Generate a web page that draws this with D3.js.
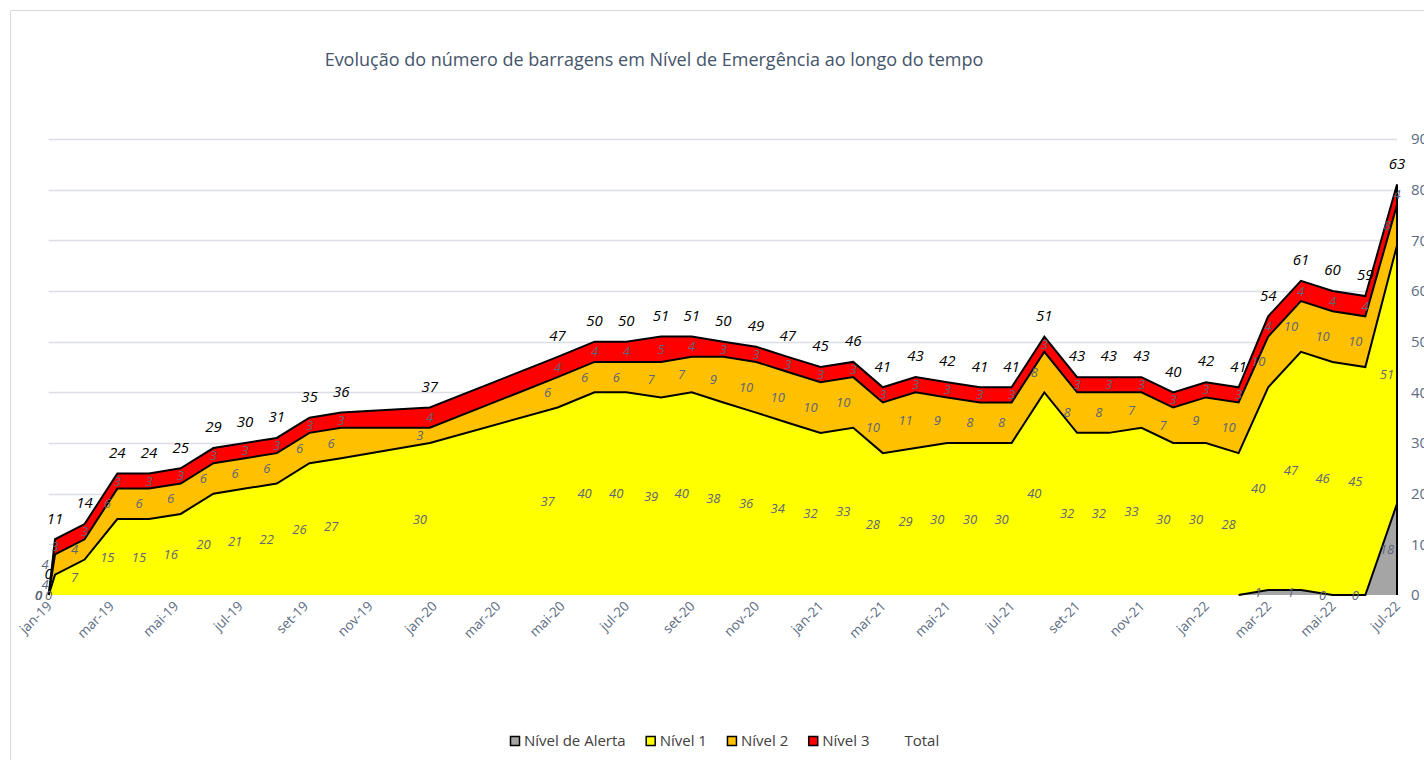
<!DOCTYPE html>
<html>
<head>
<meta charset="utf-8">
<script src="https://cdn.jsdelivr.net/npm/d3@7"></script>
<style>
  body { margin: 0; background: #fff; }
  svg { display: block; font-family: 'Open Sans', sans-serif; }
</style>
</head>
<body>
<svg id="chart" width="1424" height="760"></svg>
<script>
const dates = [
    '2019-01-01', '2019-01-07', '2019-02-04', '2019-03-07', '2019-04-06', '2019-05-06',
    '2019-06-06', '2019-07-06', '2019-08-05', '2019-09-05', '2019-10-05', '2019-12-28',
    '2020-04-27', '2020-06-01', '2020-07-01', '2020-08-03', '2020-09-01', '2020-10-01',
    '2020-11-01', '2020-12-01', '2021-01-01', '2021-02-01', '2021-03-01', '2021-04-01',
    '2021-05-01', '2021-06-01', '2021-07-01', '2021-08-01', '2021-09-01', '2021-10-01',
    '2021-11-01', '2021-12-01', '2022-01-01', '2022-02-01', '2022-03-01', '2022-04-01',
    '2022-05-01', '2022-06-01', '2022-07-01'
]
// blank months count as zero in the stack but get no label
const nivelAlerta = [0,
    null, null, null, null, null, null, null, null, null, null, null, null, null, null, null, null,
    null, null, null, null, null, null, null, null, null, null, null, null, null, null, null, null,
    null, 1, 1, 0, 0, 18]
const nivel1 = [0, 4, 7, 15, 15, 16, 20, 21, 22, 26, 27, 30, 37, 40, 40, 39, 40, 38, 36, 34,
    32, 33, 28, 29, 30, 30, 30, 40, 32, 32, 33, 30, 30, 28, 40, 47, 46, 45, 51]
const nivel2 = [0, 4, 4, 6, 6, 6, 6, 6, 6, 6, 6, 3, 6, 6, 6, 7, 7, 9, 10, 10,
    10, 10, 10, 11, 9, 8, 8, 8, 8, 8, 7, 7, 9, 10, 10, 10, 10, 10, 8]
const nivel3 = [0, 3, 3, 3, 3, 3, 3, 3, 3, 3, 3, 4, 4, 4, 4, 5, 4, 3, 3, 3,
    3, 3, 3, 3, 3, 3, 3, 3, 3, 3, 3, 3, 3, 3, 4, 4, 4, 4, 4]
const total = [0, 11, 14, 24, 24, 25, 29, 30, 31, 35, 36, 37, 47, 50, 50, 51, 51, 50, 49, 47,
    45, 46, 41, 43, 42, 41, 41, 51, 43, 43, 43, 40, 42, 41, 54, 61, 60, 59, 63]

const seriesNames = ['Nível de Alerta', 'Nível 1', 'Nível 2', 'Nível 3']
const seriesColors = ['#a5a5a5', '#ffff00', '#ffc000', '#ff0000']
const monthNames = ['jan', 'fev', 'mar', 'abr', 'mai', 'jun', 'jul', 'ago', 'set', 'out', 'nov', 'dez']
const yTicks = [0, 10, 20, 30, 40, 50, 60, 70, 80, 90]
const title = 'Evolução do número de barragens em Nível de Emergência ao longo do tempo'

const keys = ['alerta', 'n1', 'n2', 'n3']
const values = [nivelAlerta, nivel1, nivel2, nivel3]
const parseDate = d3.timeParse('%Y-%m-%d')
const rows = dates.map((d, i) => {
    const row = { date: parseDate(d), total: total[i] }
    keys.forEach((k, j) => { row[k] = values[j][i] })
    return row
})

const svg = d3.select('#chart')
const labelGray = '#5d6577'
const axisGray = '#5b6b82'

// chart border (cut by the right edge in the original)
svg.append('path')
    .attr('d', 'M10.5,760 V10.5 H1424')
    .attr('fill', 'none')
    .attr('stroke', '#d9d9d9')

svg.append('text')
    .attr('x', 654)
    .attr('y', 66)
    .attr('text-anchor', 'middle')
    .attr('font-size', 18)
    .attr('fill', '#44546a')
    .text(title)

const x = d3.scaleTime()
    .domain([parseDate('2019-01-01'), parseDate('2022-07-01')])
    .range([48.7, 1397])
const y = d3.scaleLinear()
    .domain([0, 90])
    .range([595, 139])

// gridlines
svg.append('g')
    .attr('class', 'grid')
    .selectAll('line')
    .data(yTicks.slice(1))
    .join('line')
    .attr('x1', x.range()[0])
    .attr('x2', x.range()[1])
    .attr('y1', d => Math.round(y(d)) + 0.5)
    .attr('y2', d => Math.round(y(d)) + 0.5)
    .attr('stroke', '#dadde3')
    .attr('stroke-width', 1.5)

// right value axis
const yAxis = d3.axisRight(y).tickValues(yTicks).tickSize(0).tickPadding(0)
svg.append('g')
    .attr('transform', 'translate(1411,0)')
    .call(yAxis)
    .call(g => g.select('.domain').remove())
    .call(g => g.selectAll('text')
        .attr('font-family', 'Open Sans, sans-serif')
        .attr('font-size', 15)
        .attr('fill', axisGray))

// stacked areas
const stack = d3.stack()
    .keys(keys)
    .value((d, k) => d[k] == null ? 0 : d[k])
const layers = stack(rows)

const area = d3.area()
    .x(d => x(d.data.date))
    .y0(d => y(d[0]))
    .y1(d => y(d[1]))

const gAreas = svg.append('g').attr('class', 'g-areas')
layers.forEach((layer, i) => {
    gAreas.append('path')
        .datum(layer)
        .attr('fill', seriesColors[i])
        .attr('d', area)
})

// alert outline only from the month before its first value
const alertDrawn = (d, i, arr) => d.data.alerta != null ||
    (arr[i + 1] && arr[i + 1].data.alerta != null && i > 0)
const alertLine = d3.line()
    .defined((d, i, arr) => alertDrawn(d, i, arr) && i > 0)
    .x(d => x(d.data.date))
    .y(d => y(d[1]))

const topLine = d3.line()
    .x(d => x(d.data.date))
    .y(d => y(d[1]))

const gLines = svg.append('g').attr('class', 'g-lines')
layers.forEach((layer, i) => {
    gLines.append('path')
        .datum(layer)
        .attr('fill', 'none')
        .attr('stroke', '#000')
        .attr('stroke-width', 2)
        .attr('stroke-linejoin', 'miter')
        .attr('d', i === 0 ? alertLine : topLine)
})
const last = layers[3][layers[3].length - 1]
gLines.append('line')
    .attr('x1', x(last.data.date))
    .attr('x2', x(last.data.date))
    .attr('y1', y(0))
    .attr('y2', y(last[1]))
    .attr('stroke', '#000')
    .attr('stroke-width', 2)

// x axis labels, every two months, rotated
const xTicks = d3.timeMonth.every(2).range(parseDate('2019-01-01'), parseDate('2022-07-02'))
svg.append('g')
    .attr('class', 'x-labels')
    .selectAll('text')
    .data(xTicks)
    .join('text')
    .attr('transform', d => `translate(${x(d) + 4},${607}) rotate(-45)`)
    .attr('text-anchor', 'end')
    .attr('font-size', 13.5)
    .attr('fill', axisGray)
    .text(d => `${monthNames[d.getMonth()]}-${String(d.getFullYear()).slice(2)}`)

// data labels on each band
const gLabels = svg.append('g').attr('class', 'g-labels')
    .attr('font-style', 'italic')
layers.forEach((layer, i) => {
    const key = keys[i]
    gLabels.append('g')
        .selectAll('text')
        .data(layer.filter(d => d.data[key] != null))
        .join('text')
        .attr('x', d => x(d.data.date) - (i === 3 ? 0 : 10))
        .attr('y', d => y((d[0] + d[1]) / 2))
        .attr('dy', '0.35em')
        .attr('text-anchor', 'middle')
        .attr('font-size', 13)
        .attr('fill', labelGray)
        .text(d => d.data[key])
})

// totals above the stack
gLabels.append('g')
    .selectAll('text')
    .data(layers[3])
    .join('text')
    .attr('x', d => x(d.data.date))
    .attr('y', d => y(d[1]) - 21)
    .attr('dy', '0.35em')
    .attr('text-anchor', 'middle')
    .attr('font-size', 15)
    .attr('fill', '#000')
    .text(d => d.data.total)

// legend
const legendItems = seriesNames.concat(['Total'])
const legend = svg.append('g').attr('class', 'legend')
    .attr('transform', 'translate(510,741)')
let lx = 0
legendItems.forEach((name, i) => {
    const item = legend.append('g').attr('transform', `translate(${lx},0)`)
    if (i < seriesColors.length) {
        item.append('rect')
            .attr('x', 0.5)
            .attr('y', -4.5)
            .attr('width', 9)
            .attr('height', 9)
            .attr('fill', seriesColors[i])
            .attr('stroke', '#000')
            .attr('stroke-width', 1.5)
    }
    const t = item.append('text')
        .attr('x', i < seriesColors.length ? 14 : 0)
        .attr('dy', '0.35em')
        .attr('font-size', 15)
        .attr('fill', '#404040')
        .text(name)
    lx += (i < seriesColors.length ? 14 : 0) + t.node().getComputedTextLength() + (i === 3 ? 35 : 20)
})
</script>
</body>
</html>
